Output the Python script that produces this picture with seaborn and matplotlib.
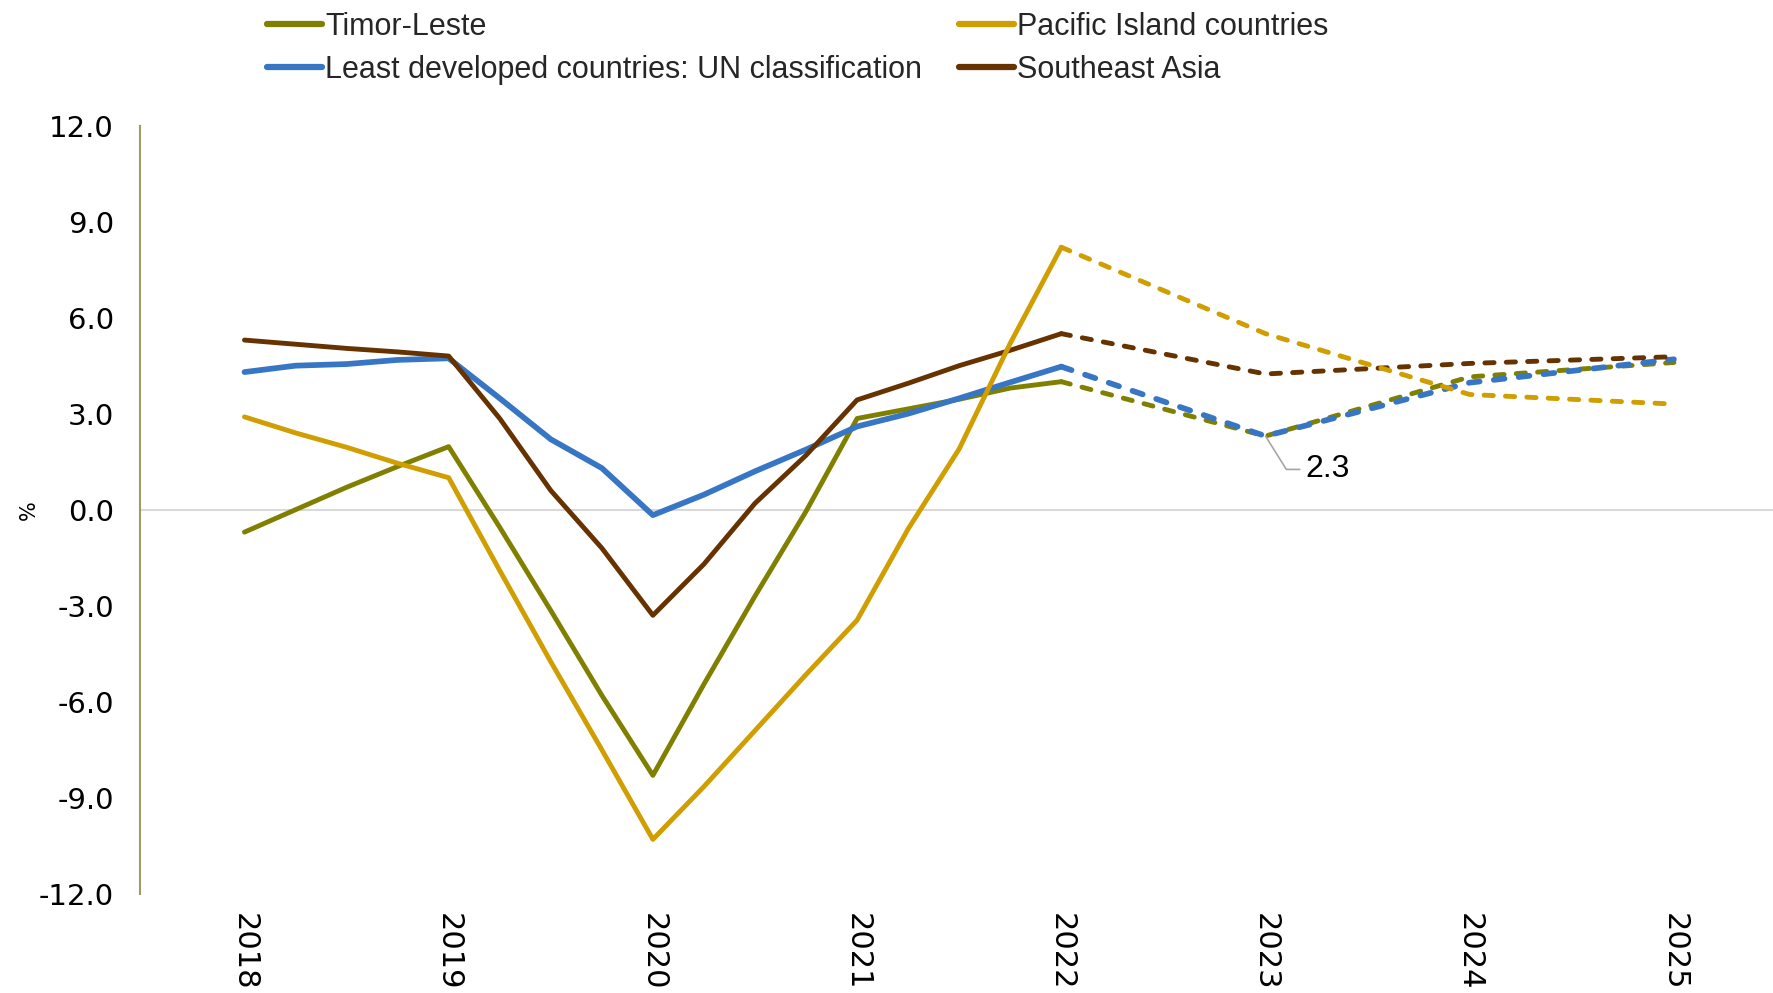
import matplotlib
matplotlib.use("Agg")
import matplotlib.pyplot as plt
from matplotlib.lines import Line2D
import seaborn as sns
import pandas as pd

# Quarterly history through 2022, annual projections 2022-2025 (GDP growth, %)
hist_periods = [2018.00, 2018.25, 2018.50, 2018.75, 2019.00, 2019.25, 2019.50, 2019.75,
                2020.00, 2020.25, 2020.50, 2020.75, 2021.00, 2021.25, 2021.50, 2021.75, 2022.00]
proj_periods = [2022, 2023, 2024, 2025]
year_labels = ["2018", "2019", "2020", "2021", "2022", "2023", "2024", "2025"]

timor_hist = [-0.7, 0.0, 0.7, 1.35, 1.97, -0.55, -3.15, -5.8, -8.3, -5.45, -2.7, -0.05,
              2.85, 3.15, 3.45, 3.8, 4.0]
timor_proj = [4.0, 2.3, 4.15, 4.6]

pacific_hist = [2.9, 2.4, 1.95, 1.45, 1.0, -1.9, -4.75, -7.5, -10.3, -8.65, -6.9, -5.15,
                -3.45, -0.6, 1.9, 5.2, 8.2]
pacific_proj = [8.2, 5.5, 3.6, 3.3]

ldc_hist = [4.3, 4.5, 4.55, 4.68, 4.73, 3.48, 2.2, 1.3, -0.17, 0.47, 1.2, 1.88,
            2.6, 3.0, 3.48, 3.98, 4.47]
ldc_proj = [4.47, 2.3, 3.97, 4.7]

sea_hist = [5.3, 5.17, 5.04, 4.93, 4.8, 2.85, 0.6, -1.2, -3.3, -1.7, 0.2, 1.7,
            3.43, 3.95, 4.5, 4.98, 5.5]
sea_proj = [5.5, 4.24, 4.57, 4.78]

names = ["Timor-Leste", "Pacific Island countries",
         "Least developed countries: UN classification", "Southeast Asia"]
colors = {"Timor-Leste": "#808000",
          "Pacific Island countries": "#D09E00",
          "Least developed countries: UN classification": "#3775C5",
          "Southeast Asia": "#663300"}
widths = {"Timor-Leste": 3.5, "Pacific Island countries": 3.5,
          "Least developed countries: UN classification": 4.1, "Southeast Asia": 3.5}
# drawing order, bottom to top
layers = {"Timor-Leste": 2, "Least developed countries: UN classification": 3,
          "Southeast Asia": 4, "Pacific Island countries": 5}

hist = pd.DataFrame({"period": hist_periods * 4,
                     "value": timor_hist + pacific_hist + ldc_hist + sea_hist,
                     "series": sum([[n] * len(hist_periods) for n in names], [])})
proj = pd.DataFrame({"period": proj_periods * 4,
                     "value": timor_proj + pacific_proj + ldc_proj + sea_proj,
                     "series": sum([[n] * len(proj_periods) for n in names], [])})

sns.set_theme(style="white")
plt.rcParams["font.family"] = ["DejaVu Sans"]

fig = plt.figure(figsize=(17.74, 9.93), dpi=100)
ax = fig.add_axes([0.0791, 0.0999, 0.9209, 0.7736])

ax.axhline(0, color="#D9D9D9", lw=1.5, zorder=1)

for n in names:
    sns.lineplot(data=hist[hist.series == n], x="period", y="value", ax=ax,
                 color=colors[n], lw=widths[n], legend=False, estimator=None,
                 sort=False, zorder=layers[n],
                 solid_capstyle="round", solid_joinstyle="round")
    sns.lineplot(data=proj[proj.series == n], x="period", y="value", ax=ax,
                 color=colors[n], lw=widths[n], legend=False, estimator=None,
                 sort=False, zorder=layers[n],
                 linestyle=(0, (1.9, 2.5)), dash_capstyle="round",
                 dash_joinstyle="round")

# data label on the 2023 projection
ax.annotate(f"{timor_proj[1]:.1f}", xy=(proj_periods[1], timor_proj[1]),
            xytext=(29, -24), textcoords="offset points", ha="left", va="center",
            fontsize=23, family=["Liberation Sans", "DejaVu Sans"], color="#000000",
            arrowprops=dict(arrowstyle="-", color="#A6A6A6", lw=1.2,
                            shrinkA=2, shrinkB=0,
                            connectionstyle="angle,angleA=0,angleB=-58,rad=0"),
            zorder=6)

ax.set_xlim(2017.49, 2025.49)
ax.set_ylim(-12, 12)
ax.set_xticks([int(y) for y in year_labels])
ax.set_xticklabels(year_labels, rotation=-90, fontsize=22, color="#000000")
ax.set_yticks([-12, -9, -6, -3, 0, 3, 6, 9, 12])
ax.set_yticklabels([f"{v:.1f}" for v in [-12, -9, -6, -3, 0, 3, 6, 9, 12]],
                   fontsize=21, color="#000000")
ax.tick_params(axis="x", length=0, pad=14)
ax.tick_params(axis="y", length=0, pad=19)
ax.set_xlabel("")
ax.set_ylabel("%", fontsize=15, color="#000000")
ax.yaxis.set_label_coords(-0.0623, 0.5)

for side in ["top", "right", "bottom"]:
    ax.spines[side].set_visible(False)
ax.spines["left"].set_color("#A09A6A")
ax.spines["left"].set_linewidth(1.5)
ax.grid(False)
ax.set_facecolor("white")

legend_order = ["Timor-Leste", "Least developed countries: UN classification",
                "Pacific Island countries", "Southeast Asia"]
handles = [Line2D([], [], color=colors[n], lw=4.5, solid_capstyle="round")
           for n in legend_order]
fig.legend(handles, legend_order, ncol=2, loc="upper left",
           bbox_to_anchor=(267 / 1774, 1 - 12 / 993), frameon=False,
           prop={"family": ["Liberation Sans", "DejaVu Sans"], "size": 22},
           handlelength=1.8, handletextpad=0.1, columnspacing=1.2,
           labelspacing=0.42, borderpad=0, borderaxespad=0)

fig.savefig("out.png", dpi=100, facecolor="white")
